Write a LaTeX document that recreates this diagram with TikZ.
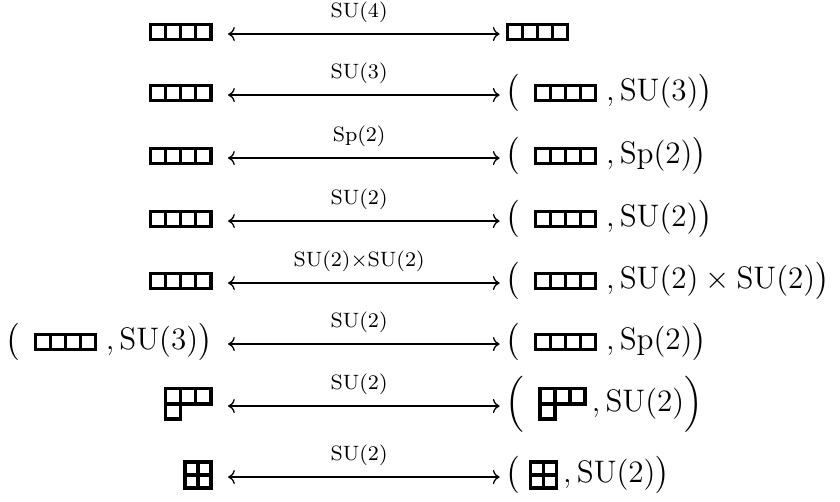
\documentclass[tikz,border=0pt]{standalone}
\usepackage{amsmath}
\usetikzlibrary{arrows.meta}

% Young diagrams: cells given as column/row, row 0 on top
\newcommand{\yd}[2][5.8pt]{\tikz[x=#1,y=#1,line width=1.3pt,baseline={([yshift=-3pt]current bounding box.center)}]{\foreach \c/\r in {#2} \draw (\c,-\r) rectangle ++(1,-1);}}
\newcommand{\yfour}{\yd{0/0,1/0,2/0,3/0}}
\newcommand{\yhook}{\yd{0/0,1/0,2/0,0/1}}
\newcommand{\ysq}{\yd[5pt]{0/0,1/0,0/1,1/1}}

\begin{document}
\begin{tikzpicture}[
 x=1.055mm,y=1.055mm,
 lhs/.style={anchor=mid east,inner sep=0pt,font=\fontsize{12}{14}\selectfont},
 rhs/.style={anchor=mid west,inner sep=0pt,font=\fontsize{12}{14}\selectfont},
 group/.style={font=\fontsize{8}{9}\selectfont,inner sep=0pt,above=1.4mm},
 dual/.style={{To[length=2.6pt,width=5.4pt]}-{To[length=2.6pt,width=5.4pt]},line width=.5pt,shorten <=2.04mm,shorten >=.76mm}
]
\useasboundingbox (0,0) rectangle (107.85,64.33);

% Left column, right aligned.
\node[lhs] (l1) at (27.35,59.96) {\yfour};
\node[lhs] (l2) at (27.35,52.13) {\yfour};
\node[lhs] (l3) at (27.35,44.04) {\yfour};
\node[lhs] (l4) at (27.35,35.95) {\yfour};
\node[lhs] (l5) at (27.35,27.99) {\yfour};
\node[lhs] (l6) at (27.35,20.16) {$\bigl(\;\,\yfour\;,\mathrm{SU}(3)\bigr)$};
\node[lhs] (l7) at (27.35,12.20) {\yhook};
\node[lhs] (l8) at (27.35,3.08) {\ysq};

% Right column, left aligned.
\node[rhs] (r1) at (64.87,59.96) {\yfour};
\node[rhs] (r2) at (64.87,52.13) {$\bigl(\;\,\yfour\;,\mathrm{SU}(3)\bigr)$};
\node[rhs] (r3) at (64.87,44.04) {$\bigl(\;\,\yfour\;,\mathrm{Sp}(2)\bigr)$};
\node[rhs] (r4) at (64.87,35.95) {$\bigl(\;\,\yfour\;,\mathrm{SU}(2)\bigr)$};
\node[rhs] (r5) at (64.87,27.99) {$\bigl(\;\,\yfour\;,\mathrm{SU}(2)\times\mathrm{SU}(2)\bigr)$};
\node[rhs] (r6) at (64.87,20.16) {$\bigl(\;\,\yfour\;,\mathrm{Sp}(2)\bigr)$};
\node[rhs] (r7) at (64.87,12.20) {$\Bigl(\;\,\yhook\,,\mathrm{SU}(2)\Bigr)$};
\node[rhs] (r8) at (64.87,3.08) {$\bigl(\;\ysq\,,\mathrm{SU}(2)\bigr)$};

% Two-headed arrows with the group on top.
\draw[dual] (l1.mid east) -- node[midway,group] {$\mathrm{SU}(4)$} (r1.mid west);
\draw[dual] (l2.mid east) -- node[midway,group] {$\mathrm{SU}(3)$} (r2.mid west);
\draw[dual] (l3.mid east) -- node[midway,group] {$\mathrm{Sp}(2)$} (r3.mid west);
\draw[dual] (l4.mid east) -- node[midway,group] {$\mathrm{SU}(2)$} (r4.mid west);
\draw[dual] (l5.mid east) -- node[midway,group] {$\mathrm{SU}(2){\times}\mathrm{SU}(2)$} (r5.mid west);
\draw[dual] (l6.mid east) -- node[midway,group] {$\mathrm{SU}(2)$} (r6.mid west);
\draw[dual] (l7.mid east) -- node[midway,group] {$\mathrm{SU}(2)$} (r7.mid west);
\draw[dual] (l8.mid east) -- node[midway,group] {$\mathrm{SU}(2)$} (r8.mid west);
\end{tikzpicture}
\end{document}
